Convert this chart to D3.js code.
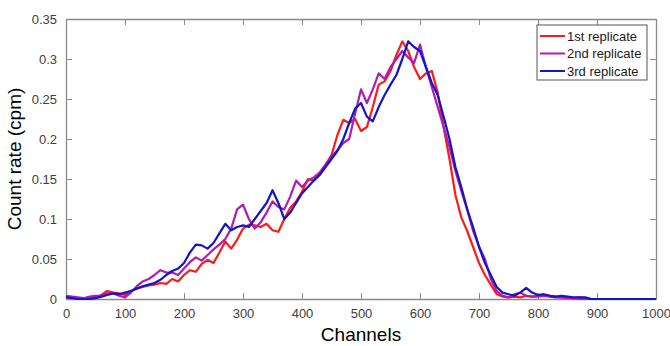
<!DOCTYPE html>
<html>
<head>
<meta charset="utf-8">
<script src="https://cdn.jsdelivr.net/npm/d3@7"></script>
<style>
  body { margin: 0; background: #fff; }
  svg { font-family: "Liberation Sans", Arial, sans-serif; }
</style>
</head>
<body>
<div id="chart"></div>
<script>
// channel positions (step 10 up to 900, then 1000)
var channels = d3.range(0, 901, 10).concat([1000])

var rep1 = [0.003,0.002,0.001,0.000,0.001,0.002,0.005,0.010,0.008,0.007,
  0.005,0.010,0.013,0.015,0.017,0.018,0.020,0.019,0.025,0.022,
  0.030,0.036,0.034,0.044,0.049,0.045,0.058,0.072,0.063,0.074,
  0.088,0.093,0.092,0.090,0.094,0.086,0.084,0.100,0.114,0.122,
  0.134,0.150,0.148,0.158,0.168,0.180,0.205,0.224,0.220,0.225,
  0.210,0.215,0.240,0.268,0.272,0.285,0.305,0.322,0.310,0.290,
  0.275,0.282,0.285,0.258,0.215,0.175,0.130,0.102,0.085,0.065,
  0.045,0.030,0.018,0.006,0.003,0.002,0.003,0.002,0.004,0.003,
  0.004,0.005,0.004,0.003,0.002,0.002,0.001,0.002,0.001,0.000,
  0.000,0.000]

var rep2 = [0.004,0.003,0.002,0.001,0.003,0.004,0.004,0.007,0.007,0.004,
  0.002,0.008,0.016,0.022,0.025,0.030,0.036,0.033,0.033,0.030,
  0.038,0.046,0.052,0.048,0.055,0.062,0.068,0.075,0.088,0.112,
  0.118,0.100,0.088,0.096,0.108,0.122,0.115,0.112,0.128,0.148,
  0.140,0.148,0.152,0.158,0.168,0.178,0.186,0.195,0.200,0.232,
  0.262,0.245,0.262,0.282,0.275,0.290,0.300,0.310,0.302,0.295,
  0.318,0.290,0.265,0.240,0.215,0.190,0.160,0.135,0.112,0.085,
  0.066,0.050,0.025,0.010,0.004,0.002,0.006,0.008,0.004,0.003,
  0.003,0.004,0.003,0.002,0.002,0.001,0.001,0.000,0.000,0.000,
  0.000,0.000]

var rep3 = [0.002,0.001,0.000,0.000,0.000,0.001,0.003,0.005,0.007,0.006,
  0.008,0.010,0.013,0.016,0.018,0.020,0.024,0.030,0.035,0.038,
  0.045,0.058,0.068,0.067,0.063,0.070,0.082,0.094,0.086,0.090,
  0.092,0.090,0.100,0.110,0.120,0.136,0.120,0.100,0.108,0.120,
  0.132,0.140,0.148,0.155,0.165,0.175,0.185,0.200,0.220,0.238,
  0.245,0.228,0.222,0.240,0.255,0.268,0.280,0.300,0.322,0.315,
  0.310,0.290,0.270,0.255,0.228,0.200,0.165,0.140,0.112,0.090,
  0.065,0.045,0.030,0.015,0.008,0.006,0.004,0.008,0.014,0.008,
  0.005,0.006,0.004,0.003,0.004,0.003,0.002,0.002,0.002,0.000,
  0.000,0.000]

var seriesNames = ["1st replicate", "2nd replicate", "3rd replicate"]
var colors = ["#ff1a1a", "#b01cb0", "#1414c8"]
var xTicks = [0,100,200,300,400,500,600,700,800,900,1000]
var yTicks = [0,0.05,0.1,0.15,0.2,0.25,0.3,0.35]

var margin = {top: 19, right: 14, bottom: 47, left: 66},
    width = 670 - margin.left - margin.right,
    height = 346 - margin.top - margin.bottom

var svg = d3.select("#chart")
  .append("svg")
    .attr("width", 670)
    .attr("height", 346)
  .append("g")
    .attr("transform", "translate(" + margin.left + "," + margin.top + ")")

var x = d3.scaleLinear().domain([0, 1000]).range([0, width])
var y = d3.scaleLinear().domain([0, 0.35]).range([height, 0])

var plain = (d) => String(d)

// axes, matlab style: ticks inside, box all round
var axisColor = "#8a8a8a"
function styleAxis(g) {
  g.select(".domain").attr("stroke", axisColor).attr("stroke-width", 1.3)
  g.selectAll(".tick line").attr("stroke", axisColor)
  g.selectAll(".tick text").attr("fill", "#404040").style("font-size", "13px")
}

svg.append("g")
  .attr("transform", "translate(0," + height + ")")
  .call(d3.axisBottom(x).tickValues(xTicks).tickSizeInner(-6).tickSizeOuter(0).tickPadding(10).tickFormat(plain))
  .call(styleAxis)

svg.append("g")
  .call(d3.axisTop(x).tickValues(xTicks).tickSizeInner(-6).tickSizeOuter(0).tickFormat(""))
  .call(styleAxis)

svg.append("g")
  .call(d3.axisLeft(y).tickValues(yTicks).tickSizeInner(-6).tickSizeOuter(0).tickPadding(9).tickFormat(plain))
  .call(styleAxis)

svg.append("g")
  .attr("transform", "translate(" + width + ",0)")
  .call(d3.axisRight(y).tickValues(yTicks).tickSizeInner(-6).tickSizeOuter(0).tickFormat(""))
  .call(styleAxis)

// lines
var line = d3.line()
  .x((d) => x(d[0]))
  .y((d) => y(d[1]))

var allSeries = [rep1, rep2, rep3]
allSeries.forEach(function(vals, i) {
  svg.append("path")
    .datum(channels.map((c, j) => [c, vals[j]]))
    .attr("fill", "none")
    .attr("stroke", colors[i])
    .attr("stroke-width", 2.2)
    .attr("stroke-linejoin", "round")
    .attr("d", line)
})

// axis titles
svg.append("text")
  .attr("x", width / 2)
  .attr("y", height + 42)
  .attr("text-anchor", "middle")
  .style("font-size", "19px")
  .attr("fill", "#000")
  .text("Channels")

svg.append("text")
  .attr("transform", "rotate(-90)")
  .attr("x", -height / 2)
  .attr("y", -45)
  .attr("text-anchor", "middle")
  .style("font-size", "19px")
  .attr("fill", "#000")
  .text("Count rate (cpm)")

// legend
var legend = svg.append("g")
  .attr("transform", "translate(" + (537 - margin.left) + "," + (25 - margin.top) + ")")

legend.append("rect")
  .attr("width", 110)
  .attr("height", 55)
  .attr("fill", "#fff")
  .attr("stroke", "#555")
  .attr("stroke-width", 1)

seriesNames.forEach(function(name, i) {
  var ly = 11 + i * 17.5
  legend.append("line")
    .attr("x1", 3).attr("x2", 28)
    .attr("y1", ly).attr("y2", ly)
    .attr("stroke", colors[i])
    .attr("stroke-width", 2)
  legend.append("text")
    .attr("x", 30)
    .attr("y", ly + 4.5)
    .style("font-size", "13px")
    .attr("fill", "#1a1a1a")
    .text(name)
})
</script>
</body>
</html>
